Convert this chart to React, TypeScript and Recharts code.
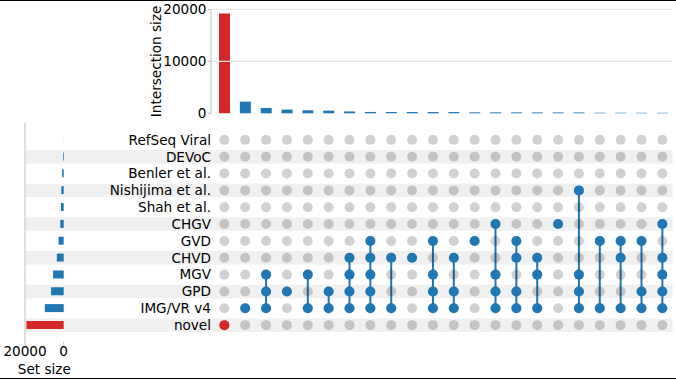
import React from "react";
import { BarChart, Bar, Cell, XAxis, YAxis, ReferenceLine, ReferenceArea, ScatterChart, Scatter } from "recharts";

const BLUE = "#1f77b4";
const RED = "#d62728";
const AXIS = "#c0c0c0";
const FONT = "DejaVu Sans";
const FS = 13.6;

// sets, top to bottom in the matrix
const setNames = [
  "RefSeq Viral", "DEVoC", "Benler et al.", "Nishijima et al.", "Shah et al.", "CHGV",
  "GVD", "CHVD", "MGV", "GPD", "IMG/VR v4", "novel",
];
const setSizes = [40, 350, 850, 1220, 1390, 1770, 2660, 3550, 5480, 6540, 9740, 19250];

// intersections, left to right
const intersectionSizes = [
  19250, 2250, 1030, 710, 580, 520, 360, 260, 255, 250, 245, 240,
  190, 185, 180, 175, 170, 165, 110, 105, 100, 95,
];
const intersectionMembers: string[][] = [
  ["novel"],
  ["IMG/VR v4"],
  ["MGV", "GPD", "IMG/VR v4"],
  ["GPD"],
  ["MGV", "IMG/VR v4"],
  ["GPD", "IMG/VR v4"],
  ["CHVD", "MGV", "GPD", "IMG/VR v4"],
  ["GVD", "CHVD", "MGV", "GPD", "IMG/VR v4"],
  ["CHVD", "IMG/VR v4"],
  ["CHVD"],
  ["GVD", "MGV", "GPD", "IMG/VR v4"],
  ["CHVD", "GPD", "IMG/VR v4"],
  ["GVD"],
  ["CHGV", "MGV", "GPD", "IMG/VR v4"],
  ["GVD", "CHVD", "GPD", "IMG/VR v4"],
  ["CHVD", "MGV", "IMG/VR v4"],
  ["CHGV"],
  ["Nishijima et al.", "MGV", "GPD", "IMG/VR v4"],
  ["GVD", "IMG/VR v4"],
  ["GVD", "CHVD", "IMG/VR v4"],
  ["GVD", "GPD", "IMG/VR v4"],
  ["CHGV", "CHVD", "MGV", "GPD", "IMG/VR v4"],
];
const highlightSet = "novel";
const intersectionTicks = [0, 10000, 20000];
const gridTicks = [10000, 20000];
const setSizeTicks = [0, 20000];

const rowOf = (name: string) => setNames.indexOf(name);
const intersectionRows = intersectionSizes.map((size, i) => ({
  id: i,
  size,
  color: intersectionMembers[i].includes(highlightSet) ? RED : BLUE,
}));
const setRows = setNames.map((name, i) => ({ name, size: setSizes[i], color: name === highlightSet ? RED : BLUE }));
const allDots = intersectionMembers.flatMap((_, c) => setNames.map((_, r) => ({ x: c, y: r })));
const memberDots = intersectionMembers.flatMap((m, c) =>
  m.map((n) => ({ x: c, y: rowOf(n), hl: intersectionMembers[c].includes(highlightSet) }))
);
const blueDots = memberDots.filter((d) => !d.hl);
const redDots = memberDots.filter((d) => d.hl);
const links = intersectionMembers
  .map((m, c) => m.map((n) => ({ x: c, y: rowOf(n) })).sort((a, b) => a.y - b.y))
  .filter((l) => l.length > 1);
const shadedRows = setNames.map((_, i) => i).filter((i) => i % 2 === 1);

const tickStyle = { fontSize: FS, fill: "#000", fontFamily: FONT };
const grayDot = (p: any) => <circle cx={p.cx} cy={p.cy} r={5} fill="#000" fillOpacity={0.18} />;
const blueDot = (p: any) => <circle cx={p.cx} cy={p.cy} r={5} fill={BLUE} />;
const redDot = (p: any) => <circle cx={p.cx} cy={p.cy} r={5} fill={RED} />;
const noDot = () => <g />;

export default function App() {
  return (
    <div style={{ position: "absolute", left: 0, top: 0, width: 676, height: 380, background: "#fff", fontFamily: FONT }}>
      <div style={{ position: "absolute", left: 0, top: 0, width: 676, height: 1, background: "#000" }} />
      <div style={{ position: "absolute", left: 0, top: 378, width: 676, height: 1.3, background: "#000" }} />

      {/* intersection size bars */}
      <div style={{ position: "absolute", left: 140, top: 0 }}>
        <BarChart width={536} height={122} data={intersectionRows} margin={{ top: 9.5, right: 3.2, bottom: 8.7, left: 0 }} barCategoryGap="24%">
          <XAxis dataKey="id" type="category" hide padding={{ left: 3, right: 0 }} />
          <YAxis
            type="number"
            domain={[0, 20000]}
            ticks={intersectionTicks}
            interval={0}
            width={71}
            tick={tickStyle}
            tickSize={3.5}
            tickMargin={1}
            axisLine={{ stroke: AXIS }}
            tickLine={{ stroke: AXIS }}
            label={{
              value: "Intersection size",
              angle: -90,
              position: "insideLeft",
              offset: 16,
              style: { textAnchor: "middle", fontSize: FS, fill: "#000", fontFamily: FONT },
            }}
          />
          {gridTicks.map((t) => (
            <ReferenceLine key={t} y={t} stroke="#e6e6e6" strokeWidth={1.2} />
          ))}
          <Bar dataKey="size" isAnimationActive={false}>
            {intersectionRows.map((r) => (
              <Cell key={r.id} fill={r.color} />
            ))}
          </Bar>
        </BarChart>
      </div>

      {/* membership matrix */}
      <div style={{ position: "absolute", left: 25, top: 123 }}>
        <ScatterChart width={651} height={219} margin={{ top: 0, right: 3.2, bottom: 0, left: 0 }}>
          <XAxis type="number" dataKey="x" domain={[-0.64, 21.5]} hide allowDataOverflow />
          <YAxis
            type="number"
            dataKey="y"
            domain={[-1, 12]}
            reversed
            ticks={setNames.map((_, i) => i)}
            interval={0}
            tickFormatter={(v: number) => setNames[v] ?? ""}
            width={186}
            tick={tickStyle}
            tickSize={0}
            tickMargin={0}
            axisLine={false}
            tickLine={false}
          />
          {shadedRows.map((i) => (
            <ReferenceArea key={i} x1={-20} y1={i - 0.4} y2={i + 0.4} fill="#f0f0f0" fillOpacity={1} stroke="none" ifOverflow="visible" />
          ))}
          {links.map((l, i) => (
            <Scatter key={i} data={l} line={{ stroke: BLUE, strokeWidth: 2 }} lineType="joint" shape={noDot} isAnimationActive={false} />
          ))}
          <Scatter data={allDots} shape={grayDot} isAnimationActive={false} />
          <Scatter data={blueDots} shape={blueDot} isAnimationActive={false} />
          <Scatter data={redDots} shape={redDot} isAnimationActive={false} />
        </ScatterChart>
      </div>

      {/* set size bars */}
      <div style={{ position: "absolute", left: 0, top: 123 }}>
        <BarChart layout="vertical" width={72} height={256} data={setRows} margin={{ top: 0, right: 8.3, bottom: 5.5, left: 0 }} barCategoryGap="25%">
          <XAxis
            type="number"
            domain={[0, 20000]}
            reversed
            ticks={setSizeTicks}
            interval={0}
            height={31.5}
            tick={tickStyle}
            tickSize={3.5}
            tickMargin={1}
            axisLine={false}
            tickLine={{ stroke: AXIS }}
            label={{ value: "Set size", position: "insideBottom", offset: 0, style: { fontSize: FS, fill: "#000", fontFamily: FONT } }}
          />
          <YAxis type="category" dataKey="name" width={25} tick={false} tickLine={false} axisLine={{ stroke: AXIS }} padding={{ top: 8.4, bottom: 8.4 }} />
          <Bar dataKey="size" isAnimationActive={false}>
            {setRows.map((r) => (
              <Cell key={r.name} fill={r.color} />
            ))}
          </Bar>
        </BarChart>
      </div>
    </div>
  );
}
